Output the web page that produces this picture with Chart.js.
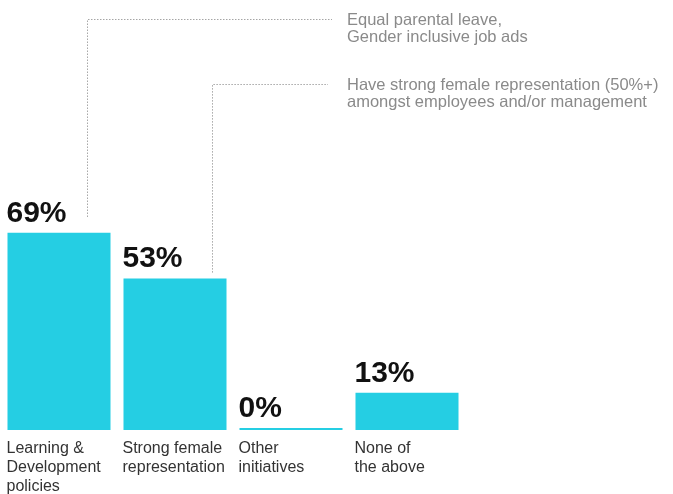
<!DOCTYPE html>
<html>
<head>
<meta charset="utf-8">
<script src="https://cdn.jsdelivr.net/npm/chart.js@4/dist/chart.umd.min.js"></script>
<style>
  html, body { margin: 0; padding: 0; background: #ffffff; }
  #wrap { width: 673px; height: 494px; position: relative; }
</style>
</head>
<body>
<div id="wrap"><canvas id="c"></canvas></div>
<script>
// ---- Data ----
const categories = [
  ["Learning &", "Development", "policies"],
  ["Strong female", "representation"],
  ["Other", "initiatives"],
  ["None of", "the above"]
];
const values = [69, 53, 0, 13];
const valueLabels = ["69%", "53%", "0%", "13%"];
const noteBars = [0, 1];
const noteTexts = [
  ["Equal parental leave,", "Gender inclusive job ads"],
  ["Have strong female representation (50%+)", "amongst employees and/or management"]
];

// ---- Styling / layout (not data) ----
const FONT = '"Liberation Sans", Arial, Helvetica, sans-serif';
const BAR_COLOR = '#25CEE3';
const noteLayout = [
  { dx: 80, gapBelow: 16, lineY: 19.5, lineEnd: 332, textX: 347 },
  { dx: 89, gapBelow: 6, lineY: 84.5, lineEnd: 328, textX: 347 }
];

const annotations = {
  id: 'annotations',
  afterDatasetsDraw(chart) {
    const ctx = chart.ctx;
    const meta = chart.getDatasetMeta(0);
    ctx.save();
    // value labels
    ctx.fillStyle = '#111111';
    ctx.font = 'bold 30px ' + FONT;
    ctx.textAlign = 'left';
    ctx.textBaseline = 'alphabetic';
    meta.data.forEach((bar, i) => {
      const left = bar.x - bar.width / 2;
      ctx.fillText(valueLabels[i], left - 1, bar.y - 11);
    });
    // notes with dotted connectors
    noteBars.forEach((bi, k) => {
      const bar = meta.data[bi];
      const L = noteLayout[k];
      const x = Math.round(bar.x - bar.width / 2 + L.dx) + 0.5;
      const yBottom = bar.y - L.gapBelow;
      ctx.strokeStyle = '#7a7a7a';
      ctx.lineWidth = 1;
      ctx.setLineDash([1, 2]);
      ctx.beginPath();
      ctx.moveTo(x, yBottom);
      ctx.lineTo(x, L.lineY);
      ctx.lineTo(L.lineEnd, L.lineY);
      ctx.stroke();
      ctx.setLineDash([]);
      ctx.fillStyle = '#8a8a8a';
      ctx.font = '16.5px ' + FONT;
      ctx.textBaseline = 'middle';
      noteTexts[k].forEach((t, j) => {
        ctx.fillText(t, L.textX, L.lineY + 1 + j * 16.5);
      });
    });
    ctx.restore();
  }
};

new Chart(document.getElementById('c'), {
  type: 'bar',
  data: {
    labels: categories,
    datasets: [{
      data: values,
      backgroundColor: BAR_COLOR,
      borderWidth: 0,
      barPercentage: 0.888,
      categoryPercentage: 1.0,
      minBarLength: 2
    }]
  },
  options: {
    responsive: true,
    maintainAspectRatio: false,
    animation: false,
    events: [],
    layout: { padding: { top: 144, left: 1, right: 208, bottom: 0 } },
    plugins: { legend: { display: false }, tooltip: { enabled: false } },
    scales: {
      y: { display: false, min: 0, max: 100 },
      x: {
        offset: true,
        grid: { display: false, drawTicks: false },
        border: { display: false },
        afterFit(axis) { axis.height = 64; },
        ticks: {
          align: 'start',
          labelOffset: -52.5,
          padding: 9,
          maxRotation: 0,
          autoSkip: false,
          color: '#333333',
          font: { family: FONT, size: 16, lineHeight: 1.19 }
        }
      }
    }
  },
  plugins: [annotations]
});
</script>
</body>
</html>
